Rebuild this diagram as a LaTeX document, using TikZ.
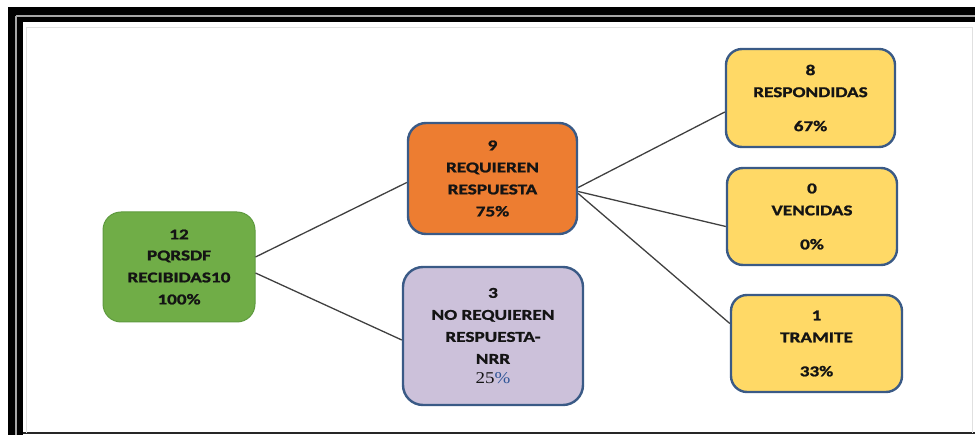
\documentclass[tikz,border=0pt]{standalone}
\usepackage{fontspec}
\setmainfont{Carlito}[FakeStretch=1.28, BoldFeatures={FakeBold=1.3}]
\newfontfamily\pctserif{Liberation Serif}[FakeStretch=1.15]
\usetikzlibrary{calc}
\definecolor{gfill}{HTML}{70AD47}
\definecolor{gline}{HTML}{5E9A3E}
\definecolor{ofill}{HTML}{ED7D31}
\definecolor{pfill}{HTML}{CCC1DA}
\definecolor{yfill}{HTML}{FFD966}
\definecolor{bline}{HTML}{3A5A86}
\definecolor{conn}{HTML}{404040}
\definecolor{txt}{HTML}{141414}
\definecolor{pctblue}{HTML}{2F5597}
\tikzset{
  box/.style={rectangle, rounded corners=18pt, align=center, inner sep=0pt,
    text=txt, font=\bfseries\fontsize{15}{22}\selectfont},
  bluebox/.style={box, draw=bline, line width=2.4pt},
  conline/.style={draw=conn, line width=1.3pt},
}
\begin{document}
\begin{tikzpicture}[x=1pt,y=-1pt]
\useasboundingbox (0,0) rectangle (975,435);
% frame
\fill[black] (8,7) rectangle (975,22);
\fill[black] (8,7) rectangle (23,435);
\draw[gray!70, line width=1.5pt] (16,16) -- (975,16);
\draw[gray!70, line width=1.5pt] (16,16) -- (16,435);
\draw[black!85, line width=2pt] (23,433) -- (975,433);
\draw[black!12, line width=1pt] (26,28) -- (972,28) -- (972,433);
\draw[black!12, line width=1pt] (26,28) -- (26,433);
% nodes
\node[box, fill=gfill, draw=gline, line width=1pt, minimum width=152pt, minimum height=110pt] (g) at (179,267)
  {12\\[-1pt] PQRSDF\\ RECIBIDAS10\\ 100\%};
\node[bluebox, fill=ofill, minimum width=169pt, minimum height=111pt] (o) at (492.5,178.5)
  {9\\ REQUIEREN\\ RESPUESTA\\ 75\%};
\node[bluebox, fill=pfill, rounded corners=20pt, minimum width=180pt, minimum height=138pt] (p) at (493,336)
  {3\\ NO REQUIEREN\\ RESPUESTA-\\ NRR\\[-2pt] {\pctserif\mdseries\fontsize{16.5}{20}\selectfont 25\textcolor{pctblue}{\%}}};
\node[bluebox, fill=yfill, rounded corners=16pt, minimum width=169pt, minimum height=98pt] (y1) at (810.5,98)
  {8\\ RESPONDIDAS\\[12pt] 67\%};
\node[bluebox, fill=yfill, rounded corners=16pt, minimum width=170pt, minimum height=97pt] (y2) at (812,216.5)
  {0\\ VENCIDAS\\[12pt] 0\%};
\node[bluebox, fill=yfill, rounded corners=16pt, minimum width=171pt, minimum height=97pt] (y3) at (816.5,343.5)
  {1\\ TRAMITE\\[12pt] 33\%};
% connectors
\draw[conline] ($(g.east)+(0,-10)$) -- ($(o.west)+(0,4)$);
\draw[conline] ($(g.east)+(0,6)$) -- ($(p.west)+(0,4)$);
\draw[conline] ($(o.east)+(0,9)$) -- ($(y1.west)+(0,14)$);
\draw[conline] ($(o.east)+(0,13)$) -- ($(y2.west)+(0,10)$);
\draw[conline] ($(o.east)+(0,15)$) -- ($(y3.west)+(0,-20)$);
\end{tikzpicture}
\end{document}
